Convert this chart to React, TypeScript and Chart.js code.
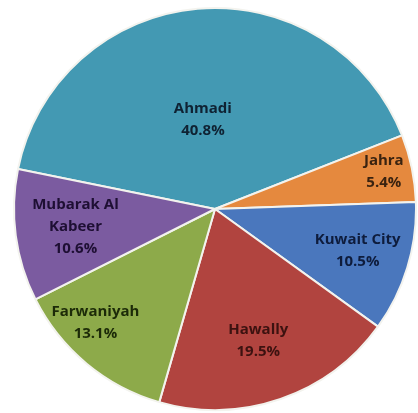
import React, { useEffect, useRef } from "react";
import { Chart, registerables } from "chart.js";

Chart.register(...registerables);

const categories = ["Ahmadi", "Jahra", "Kuwait City", "Hawally", "Farwaniyah", "Mubarak Al Kabeer"];
const labelLines = [["Ahmadi"], ["Jahra"], ["Kuwait City"], ["Hawally"], ["Farwaniyah"], ["Mubarak Al", "Kabeer"]];
const shares = [40.8, 5.4, 10.5, 19.5, 13.1, 10.6];
const percentLabels = ["40.8%", "5.4%", "10.5%", "19.5%", "13.1%", "10.6%"];

const sliceColors = ["#4399B3", "#E5893E", "#4A77BD", "#B1443F", "#8DAA4A", "#7B5BA0"];
const textColors = ["#0F2233", "#3A2310", "#0E1C3C", "#3C1210", "#1C2A08", "#1E0F33"];
const labelRadius = [0.45, 0.86, 0.74, 0.69, 0.82, 0.7];
const labelAngleShift = [-2.7, -0.7, -0.5, 0.85, 6.8, 0.3];

const labelPlugin = {
  id: "sliceLabels",
  afterDatasetsDraw(chart: any) {
    const ctx = chart.ctx;
    const meta = chart.getDatasetMeta(0);
    ctx.save();
    ctx.font = "bold 15px 'Open Sans', sans-serif";
    ctx.textAlign = "center";
    ctx.textBaseline = "middle";
    meta.data.forEach((arc: any, i: number) => {
      const p = arc.getProps(["x", "y", "startAngle", "endAngle", "outerRadius"], true);
      const mid = (p.startAngle + p.endAngle) / 2 + (labelAngleShift[i] * Math.PI) / 180;
      const r = p.outerRadius * labelRadius[i];
      const cx = p.x + Math.cos(mid) * r;
      const cy = p.y + Math.sin(mid) * r;
      const lines = [...labelLines[i], percentLabels[i]];
      const lh = 22;
      const top = cy - ((lines.length - 1) * lh) / 2;
      ctx.fillStyle = textColors[i];
      lines.forEach((t, k) => ctx.fillText(t, cx, top + k * lh));
    });
    ctx.restore();
  },
};

export default function App() {
  const ref = useRef<HTMLCanvasElement | null>(null);
  useEffect(() => {
    if (!ref.current) return;
    const chart = new Chart(ref.current, {
      type: "pie",
      data: {
        labels: categories,
        datasets: [
          {
            data: shares,
            backgroundColor: sliceColors,
            borderColor: "#F3F3EE",
            borderWidth: 2,
          },
        ],
      },
      options: {
        animation: false,
        responsive: false,
        rotation: 281.5,
        layout: { padding: { left: 13, right: 1, top: 7, bottom: 2 } },
        plugins: { legend: { display: false }, tooltip: { enabled: false } },
      },
      plugins: [labelPlugin],
    });
    return () => chart.destroy();
  }, []);
  return (
    <div style={{ position: "fixed", left: 0, top: 0, width: 418, height: 413, overflow: "hidden", background: "#fff" }}>
      <canvas ref={ref} width={418} height={413} style={{ display: "block" }} />
    </div>
  );
}
